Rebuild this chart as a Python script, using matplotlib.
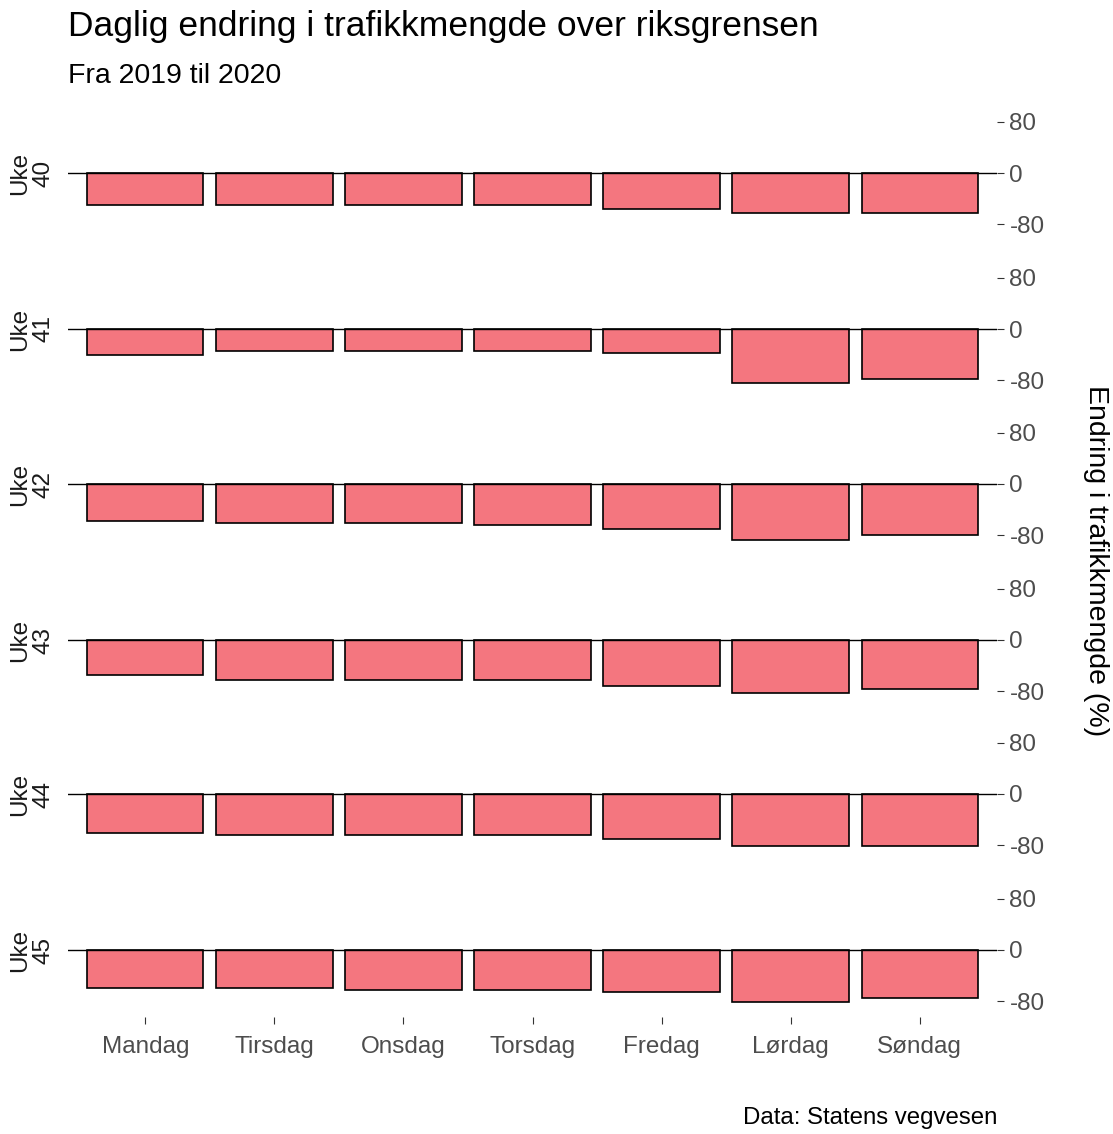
import matplotlib
matplotlib.use("Agg")
import matplotlib.pyplot as plt
import numpy as np

plt.rcParams["font.family"] = ["Liberation Sans", "DejaVu Sans"]

days = ["Mandag", "Tirsdag", "Onsdag", "Torsdag", "Fredag", "Lørdag", "Søndag"]
weeks = ["40", "41", "42", "43", "44", "45"]

uke40 = [-50, -50, -50, -50, -56, -63, -63]
uke41 = [-41, -34, -34, -34, -38, -85, -78]
uke42 = [-58, -61, -61, -64, -70, -88, -80]
uke43 = [-55, -63, -63, -63, -72, -83, -77]
uke44 = [-61, -64, -64, -64, -70, -81, -81]
uke45 = [-59, -59, -63, -63, -66, -81, -75]
changes = [uke40, uke41, uke42, uke43, uke44, uke45]

W, H = 1113, 1134
fig = plt.figure(figsize=(W / 100, H / 100), dpi=100)

bar_col = "#F4767F"
grey = "#4D4D4D"

x0, x1 = 68, 997
zeros = [173, 329, 484, 640, 794, 950]
half = 67
lim = 105
x = np.arange(len(days))

for i, (wk, vals) in enumerate(zip(weeks, changes)):
    top = zeros[i] - half
    ax = fig.add_axes([x0 / W, 1 - (top + 2 * half) / H, (x1 - x0) / W, 2 * half / H])
    ax.bar(x, vals, width=0.9, color=bar_col, edgecolor="black", linewidth=1.2, zorder=2)
    ax.axhline(0, color="black", linewidth=1.0, zorder=3)
    ax.set_xlim(-0.6, len(days) - 0.4)
    ax.set_ylim(-lim, lim)
    for s in ax.spines.values():
        s.set_visible(False)
    ax.yaxis.tick_right()
    ax.set_yticks([-80, 0, 80])
    ax.set_yticklabels(["-80", "0", "80"])
    ax.tick_params(axis="y", length=5, width=0.8, color="#333333", labelsize=17.5,
                   labelcolor=grey, pad=4)
    ax.set_xticks(x)
    if i == len(weeks) - 1:
        ax.set_xticklabels(days)
        ax.tick_params(axis="x", length=5, width=0.8, color="#333333", labelsize=17.5,
                       labelcolor=grey, pad=9)
    else:
        ax.tick_params(axis="x", length=0, labelbottom=False)
    # strip label on the left, like facet_grid(switch = "y")
    fig.text(32 / W, 1 - zeros[i] / H, "Uke\n" + wk, rotation=90, ha="center", va="center",
             fontsize=17.5, color="#1A1A1A", linespacing=1.1)

fig.text(68 / W, 1 - 36 / H, "Daglig endring i trafikkmengde over riksgrensen",
         ha="left", va="baseline", fontsize=25.5, color="black")
fig.text(68 / W, 1 - 83 / H, "Fra 2019 til 2020", ha="left", va="baseline",
         fontsize=20.5, color="black")
fig.text(1096 / W, 1 - 561 / H, "Endring i trafikkmengde (%)", rotation=-90,
         ha="center", va="center", fontsize=20.5, color="black")
fig.text(997 / W, 1 - 1124 / H, "Data: Statens vegvesen", ha="right", va="baseline",
         fontsize=17.3, color="black")

fig.savefig("out.png", dpi=100, facecolor="white")
